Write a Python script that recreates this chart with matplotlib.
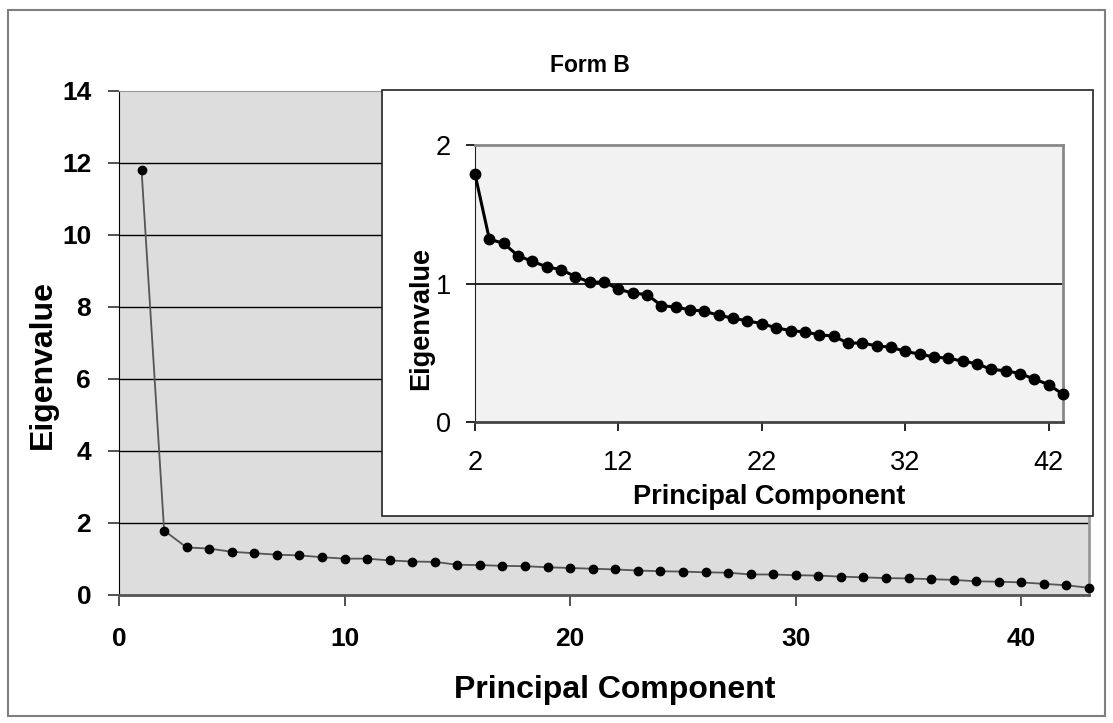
import matplotlib.pyplot as plt
from matplotlib.patches import Rectangle

plt.rcParams['font.family'] = ['Liberation Sans', 'DejaVu Sans']

# eigenvalues for components 1..43
components = list(range(1, 44))
eigenvalues = [
    11.80, 1.79, 1.32, 1.29, 1.20, 1.16, 1.12, 1.10, 1.05, 1.01,
    1.01, 0.96, 0.93, 0.92, 0.84, 0.83, 0.81, 0.80, 0.77, 0.75,
    0.73, 0.71, 0.68, 0.66, 0.65, 0.63, 0.62, 0.57, 0.57, 0.55,
    0.54, 0.51, 0.49, 0.47, 0.46, 0.44, 0.42, 0.38, 0.37, 0.35,
    0.31, 0.27, 0.20,
]
main_xticks = [0, 10, 20, 30, 40]
main_yticks = [0, 2, 4, 6, 8, 10, 12, 14]
inset_xticks = [2, 12, 22, 32, 42]
inset_yticks = [0, 1, 2]

W, H = 1113, 723
fig = plt.figure(figsize=(W / 100, H / 100), dpi=100)


def px_rect(x0, y0, x1, y1):
    # pixel box (top-left origin) -> figure fraction [l, b, w, h]
    return [x0 / W, 1 - y1 / H, (x1 - x0) / W, (y1 - y0) / H]


# outer chart border
fig.patches.append(Rectangle((8 / W, 1 - 716 / H), 1097 / W, 706 / H,
                             transform=fig.transFigure, fill=False,
                             edgecolor='#7f7f7f', lw=1.5))

# main scree plot
ax = fig.add_axes(px_rect(119, 91, 1089, 595))
ax.set_facecolor('#dddddd')
ax.plot(components, eigenvalues, color='#555555', lw=1.3, marker='o',
        ms=6, mfc='black', mec='black', zorder=3, clip_on=False)
ax.set_xlim(0, 43)
ax.set_ylim(0, 14)
ax.set_xticks(main_xticks)
ax.set_yticks(main_yticks)
for y in main_yticks[1:-1]:
    ax.axhline(y, color='black', lw=1.0, zorder=1)
ax.tick_params(direction='out', length=8, width=1.2, labelsize=19,
               color='#333333')
ax.tick_params(axis='x', pad=15)
ax.tick_params(axis='y', pad=12)
for lbl in ax.get_xticklabels() + ax.get_yticklabels():
    lbl.set_fontweight('bold')
ax.spines['left'].set_color('black')
ax.spines['bottom'].set_color('#555555')
ax.spines['bottom'].set_linewidth(2)
ax.spines['top'].set_color('#999999')
ax.spines['right'].set_color('#999999')
ax.spines['right'].set_linewidth(2)
ax.set_xlabel('Principal Component', fontsize=23, fontweight='bold',
              va='center')
ax.set_ylabel('Eigenvalue', fontsize=23, fontweight='bold', va='center')
ax.xaxis.set_label_coords(0.511, (595 - 690) / 504)
ax.yaxis.set_label_coords((43 - 119) / 970, 0.458)
fig.text(590 / W, 1 - 66 / H, 'Form B', ha='center', va='center',
         fontsize=16.5, fontweight='bold')

# white panel behind the inset
fig.patches.append(Rectangle((382 / W, 1 - 516 / H), 711 / W, 426 / H,
                             transform=fig.transFigure, facecolor='white',
                             edgecolor='#222222', lw=1.2, zorder=2))

# inset: components 2..43 only
axi = fig.add_axes(px_rect(475, 145, 1063, 422), zorder=3)
axi.set_facecolor('#f2f2f2')
axi.plot(components[1:], eigenvalues[1:], color='black', lw=2.2,
         marker='o', ms=7.5, zorder=3, clip_on=False)
axi.set_xlim(2, 43)
axi.set_ylim(0, 2)
axi.set_xticks(inset_xticks)
axi.set_yticks(inset_yticks)
axi.axhline(1, color='black', lw=1.2, zorder=1)
axi.tick_params(direction='out', length=6.5, width=1.2, labelsize=19.5)
axi.tick_params(axis='x', pad=14)
axi.tick_params(axis='y', pad=11)
axi.spines['left'].set_color('#222222')
axi.spines['bottom'].set_color('#444444')
axi.spines['bottom'].set_linewidth(2)
axi.spines['top'].set_color('#888888')
axi.spines['top'].set_linewidth(2)
axi.spines['right'].set_color('#888888')
axi.spines['right'].set_linewidth(2)
axi.set_xlabel('Principal Component', fontsize=19.5, fontweight='bold',
               va='center')
axi.set_ylabel('Eigenvalue', fontsize=19.5, fontweight='bold', va='center')
axi.xaxis.set_label_coords(0.5, (422 - 497) / 277)
axi.yaxis.set_label_coords((421 - 475) / 588, 0.375)

fig.savefig('out.png', dpi=100)
